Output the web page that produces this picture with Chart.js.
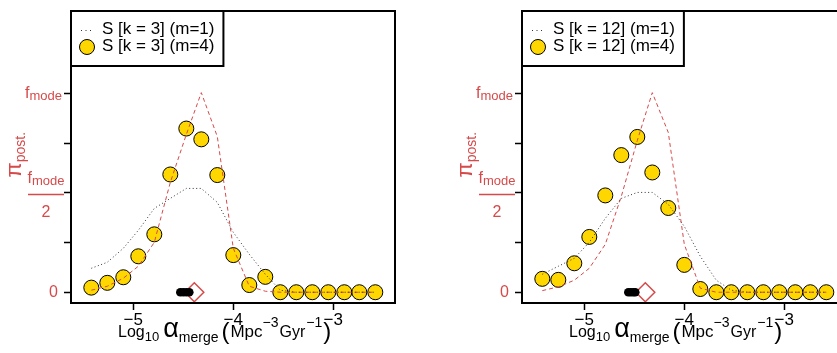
<!DOCTYPE html>
<html>
<head>
<meta charset="utf-8">
<script src="https://cdn.jsdelivr.net/npm/chart.js@4.4.0/dist/chart.umd.min.js"></script>
<style>
  body { margin: 0; background: #fff; }
  #wrap { width: 837px; height: 353px; overflow: hidden; position: relative; }
  .panel { position: absolute; top: 0; width: 451px; height: 353px; }
</style>
</head>
<body>
<div id="wrap">
  <div class="panel" style="left:0"><canvas id="c1" width="451" height="353"></canvas></div>
  <div class="panel" style="left:451px"><canvas id="c2" width="451" height="353"></canvas></div>
</div>
<script>
// bin centres, log10 alpha_merge
const logAlpha = [-5.42, -5.26, -5.10, -4.95, -4.79, -4.63, -4.47, -4.32, -4.16, -4.00,
                  -3.84, -3.68, -3.53, -3.37, -3.21, -3.05, -2.89, -2.74, -2.58];

// k = 3
const k3_m1 = [0.12, 0.15, 0.22, 0.31, 0.42, 0.47, 0.52, 0.52, 0.45, 0.30, 0.19, 0.09, 0.01, 0, 0, 0, 0, 0, 0];
const k3_m4 = [0.023, 0.047, 0.075, 0.18, 0.29, 0.59, 0.82, 0.766, 0.587, 0.186, 0.036, 0.077, 0, 0, 0, 0, 0, 0, 0];
const k3_m4_curve = [0.01, 0.03, 0.07, 0.13, 0.25, 0.55, 0.79, 1.0, 0.78, 0.22, 0.03, 0.005, 0, 0, 0, 0, 0, 0, 0];
const k3_draws = [-4.53, -4.50, -4.47, -4.44];
const k3_true = [-4.39];

// k = 12
const k12_m1 = [0.09, 0.13, 0.17, 0.25, 0.37, 0.47, 0.50, 0.50, 0.44, 0.33, 0.18, 0.06, 0.01, 0, 0, 0, 0, 0, 0];
const k12_m4 = [0.067, 0.062, 0.145, 0.277, 0.485, 0.687, 0.778, 0.60, 0.422, 0.137, 0.016, 0, 0, 0, 0, 0, 0, 0, 0];
const k12_m4_curve = [0.008, 0.027, 0.06, 0.12, 0.24, 0.48, 0.76, 1.0, 0.80, 0.24, 0.02, 0, 0, 0, 0, 0, 0, 0, 0];
const k12_draws = [-4.56, -4.535, -4.51, -4.49];
const k12_true = [-4.39];

const xTicks = [-5, -4, -3];
const yTicks = [0, 0.25, 0.5, 0.75, 1];

const RED = '#D64a4a';
const FONT = '"Liberation Sans", Arial, Helvetica, sans-serif';

function pts(xs, ys) { return xs.map((x, i) => ({ x: x, y: ys[i] })); }

function font(sz) { return sz + 'px ' + FONT; }

// draws a run of [text, size, dy, gapAfter] pieces, returns end x
function run(ctx, x, y, pieces) {
  pieces.forEach(p => {
    ctx.font = font(p[1]);
    ctx.fillText(p[0], x, y + (p[2] || 0));
    x += ctx.measureText(p[0]).width + (p[3] || 0);
  });
  return x;
}

function decor(k) {
  return {
    id: 'decor' + k,
    afterDraw(chart) {
      const ctx = chart.ctx, a = chart.chartArea;
      const xs = chart.scales.x, ys = chart.scales.y;
      ctx.save();
      // box
      ctx.strokeStyle = '#000';
      ctx.lineWidth = 2;
      ctx.strokeRect(a.left, a.top, a.right - a.left, a.bottom - a.top);
      // ticks
      ctx.lineWidth = 1.5;
      ctx.beginPath();
      yTicks.forEach(v => {
        const py = Math.round(ys.getPixelForValue(v)) + 0.5;
        ctx.moveTo(a.left - 7, py); ctx.lineTo(a.left, py);
      });
      xTicks.forEach(v => {
        const px = Math.round(xs.getPixelForValue(v)) + 0.5;
        ctx.moveTo(px, a.bottom); ctx.lineTo(px, a.bottom + 7);
      });
      ctx.stroke();

      // x tick labels
      ctx.fillStyle = '#000';
      ctx.font = font(17);
      ctx.textAlign = 'center';
      ctx.textBaseline = 'middle';
      xTicks.forEach(v => ctx.fillText('\u2212' + Math.abs(v), xs.getPixelForValue(v), a.bottom + 17));

      // x title
      ctx.textAlign = 'left';
      ctx.textBaseline = 'alphabetic';
      run(ctx, a.left + 47, 337, [
        ['Log', 16, 0], ['10', 13, 4, 4], ['\u03b1', 27, 0], ['merge', 14, 5, 3],
        ['(', 24, 2, 1], ['Mpc', 17, 0], ['\u22123', 14, -10, 1], ['Gyr', 16, 0, 1], ['\u22121', 14, -10, 1], [')', 24, 2]
      ]);

      // y labels
      ctx.fillStyle = RED;
      ctx.strokeStyle = RED;
      const y0 = ys.getPixelForValue(0), y1 = ys.getPixelForValue(1), yh = ys.getPixelForValue(0.5);
      ctx.font = font(16);
      ctx.textAlign = 'right';
      ctx.textBaseline = 'middle';
      ctx.fillText('0', a.left - 13, y0);
      ctx.textAlign = 'left';
      ctx.textBaseline = 'alphabetic';
      ctx.font = font(16); const wf = ctx.measureText('f').width;
      ctx.font = font(13); const wm = ctx.measureText('mode').width;
      run(ctx, a.left - 9 - wf - wm, y1 + 5, [['f', 16, 0], ['mode', 13, 2]]);
      // fraction f_mode / 2
      const cx = a.left - 25;
      run(ctx, cx - (wf + wm) / 2, yh - 9, [['f', 16, 0], ['mode', 13, 2]]);
      ctx.lineWidth = 1.5;
      ctx.beginPath();
      ctx.moveTo(cx - 18, yh + 2); ctx.lineTo(cx + 18, yh + 2);
      ctx.stroke();
      ctx.font = font(16);
      ctx.textAlign = 'center';
      ctx.textBaseline = 'middle';
      ctx.fillText('2', cx, yh + 20);
      // pi_post. rotated
      ctx.save();
      ctx.translate(21, yh - 15);
      ctx.rotate(-Math.PI / 2);
      ctx.textAlign = 'left';
      ctx.textBaseline = 'alphabetic';
      run(ctx, 0, 0, [['\u03c0', 22, 0], ['post.', 14, 4]]);
      ctx.restore();

      // legend
      ctx.font = font(17);
      const l1 = 'S [k = ' + k + '] (m=1)', l2 = 'S [k = ' + k + '] (m=4)';
      const tw = Math.max(ctx.measureText(l1).width, ctx.measureText(l2).width);
      const lx = a.left, ly = a.top;
      const tx = lx + 31;
      const bw = tx + tw + 9 - lx;
      ctx.fillStyle = '#fff';
      ctx.fillRect(lx, ly, bw, 55);
      ctx.strokeStyle = '#000';
      ctx.lineWidth = 2;
      ctx.strokeRect(lx, ly, bw, 55);
      ctx.lineWidth = 1;
      ctx.setLineDash([1, 3.5]);
      ctx.strokeStyle = '#333';
      ctx.beginPath();
      ctx.moveTo(lx + 10, ly + 19.5); ctx.lineTo(lx + 22, ly + 19.5);
      ctx.stroke();
      ctx.setLineDash([]);
      ctx.beginPath();
      ctx.arc(lx + 16, ly + 36, 7.5, 0, Math.PI * 2);
      ctx.fillStyle = '#FFD700';
      ctx.fill();
      ctx.strokeStyle = '#000';
      ctx.stroke();
      ctx.fillStyle = '#000';
      ctx.textAlign = 'left';
      ctx.textBaseline = 'middle';
      ctx.fillText(l1, tx, ly + 18);
      ctx.fillText(l2, tx, ly + 35);
      ctx.restore();
    }
  };
}

function panel(id, k, m1, m4, curve, draws, truth) {
  new Chart(document.getElementById(id), {
    type: 'scatter',
    data: {
      datasets: [
        { type: 'line', data: pts(logAlpha, m1), borderColor: '#333', borderWidth: 1,
          borderDash: [1, 2.5], pointRadius: 0, fill: false },
        { type: 'line', data: pts(logAlpha, curve), borderColor: RED, borderWidth: 1,
          borderDash: [4, 3], pointRadius: 0, fill: false },
        { data: pts(logAlpha, m4), backgroundColor: '#FFD700', borderColor: '#000',
          borderWidth: 1, pointRadius: 7.5 },
        { data: draws.map(x => ({ x: x, y: 0 })), backgroundColor: '#000', borderColor: '#000',
          pointRadius: 4.3, borderWidth: 0 },
        { data: truth.map(x => ({ x: x, y: 0 })), pointStyle: 'rectRot', pointRadius: 9.5,
          backgroundColor: 'rgba(0,0,0,0)', borderColor: RED, borderWidth: 1.5 }
      ]
    },
    options: {
      responsive: false,
      animation: false,
      layout: { padding: { left: 71, right: 56, top: 4, bottom: 50 } },
      scales: {
        x: { type: 'linear', min: -5.623, max: -2.383, display: false },
        y: { min: -0.054, max: 1.409, display: false }
      },
      plugins: { legend: { display: false }, tooltip: { enabled: false } }
    },
    plugins: [decor(k)]
  });
}

panel('c1', 3, k3_m1, k3_m4, k3_m4_curve, k3_draws, k3_true);
panel('c2', 12, k12_m1, k12_m4, k12_m4_curve, k12_draws, k12_true);
</script>
</body>
</html>
